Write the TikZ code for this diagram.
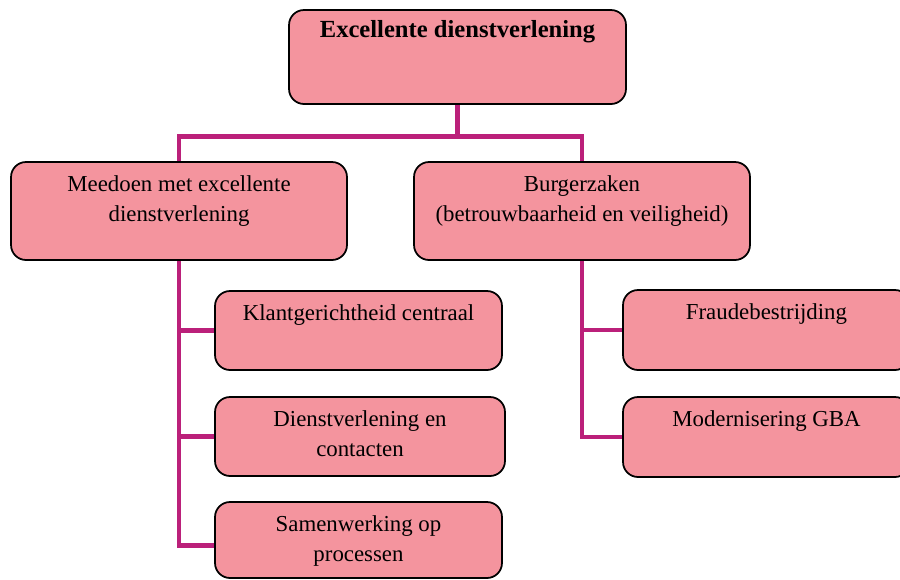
\documentclass[tikz,border=0pt]{standalone}
\usepackage{fontspec}
\setmainfont{Liberation Serif}
\usetikzlibrary{positioning,backgrounds}
\definecolor{boxpink}{RGB}{244,148,158}
\definecolor{linkmagenta}{RGB}{187,32,122}

\begin{document}
\begin{tikzpicture}[x=0.02cm, y=-0.02cm,
  box/.style={draw=black, line width=1pt, fill=boxpink, rounded corners=0.3cm, inner sep=0pt},
  txt/.style={anchor=north, align=center, inner sep=0pt, yshift=-8pt, font=\fontsize{13}{17}\selectfont},
  link/.style={draw=linkmagenta, line width=2.8pt}]

\clip (0,0) rectangle (900,579);

% top level
\node[box, minimum width=6.74cm, minimum height=1.88cm] (top) at (457.5,57) {};
\node[txt, yshift=1.5pt, font=\fontsize{14}{17}\selectfont\bfseries] (top-t) at (top.north) {Excellente dienstverlening};

% second level
\node[box, minimum width=6.72cm, minimum height=1.96cm] (meedoen) at (179,211) {};
\node[txt] (meedoen-t) at (meedoen.north) {Meedoen met excellente\\dienstverlening};
\node[box, minimum width=6.72cm, minimum height=1.96cm] (burger) at (582,211) {};
\node[txt] (burger-t) at (burger.north) {Burgerzaken\\(betrouwbaarheid en veiligheid)};

% third level, left
\node[box, minimum width=5.74cm, minimum height=1.58cm] (klant) at (358.5,330.5) {};
\node[txt] (klant-t) at (klant.north) {Klantgerichtheid centraal};
\node[box, minimum width=5.8cm, minimum height=1.58cm] (dienst) at (360,436.5) {};
\node[txt] (dienst-t) at (dienst.north) {Dienstverlening en\\contacten};
\node[box, minimum width=5.74cm, minimum height=1.52cm] (samen) at (358.5,540) {};
\node[txt] (samen-t) at (samen.north) {Samenwerking op\\processen};

% third level, right
\node[box, minimum width=5.74cm, minimum height=1.6cm] (fraude) at (766.5,330) {};
\node[txt] (fraude-t) at (fraude.north) {Fraudebestrijding};
\node[box, minimum width=5.74cm, minimum height=1.6cm] (modern) at (766.5,437) {};
\node[txt] (modern-t) at (modern.north) {Modernisering GBA};

\begin{scope}[on background layer]
\draw[link] (top.south) -- ++(0,32) -| (meedoen.north);
\draw[link] (top.south) -- ++(0,32) -| (burger.north);
\draw[link] (meedoen.south) |- (klant.west);
\draw[link] (meedoen.south) |- (dienst.west);
\draw[link] (meedoen.south) |- ([yshift=-3pt]samen.west);
\draw[link] (burger.south) |- (fraude.west);
\draw[link] (burger.south) |- (modern.west);
\end{scope}

\end{tikzpicture}
\end{document}
